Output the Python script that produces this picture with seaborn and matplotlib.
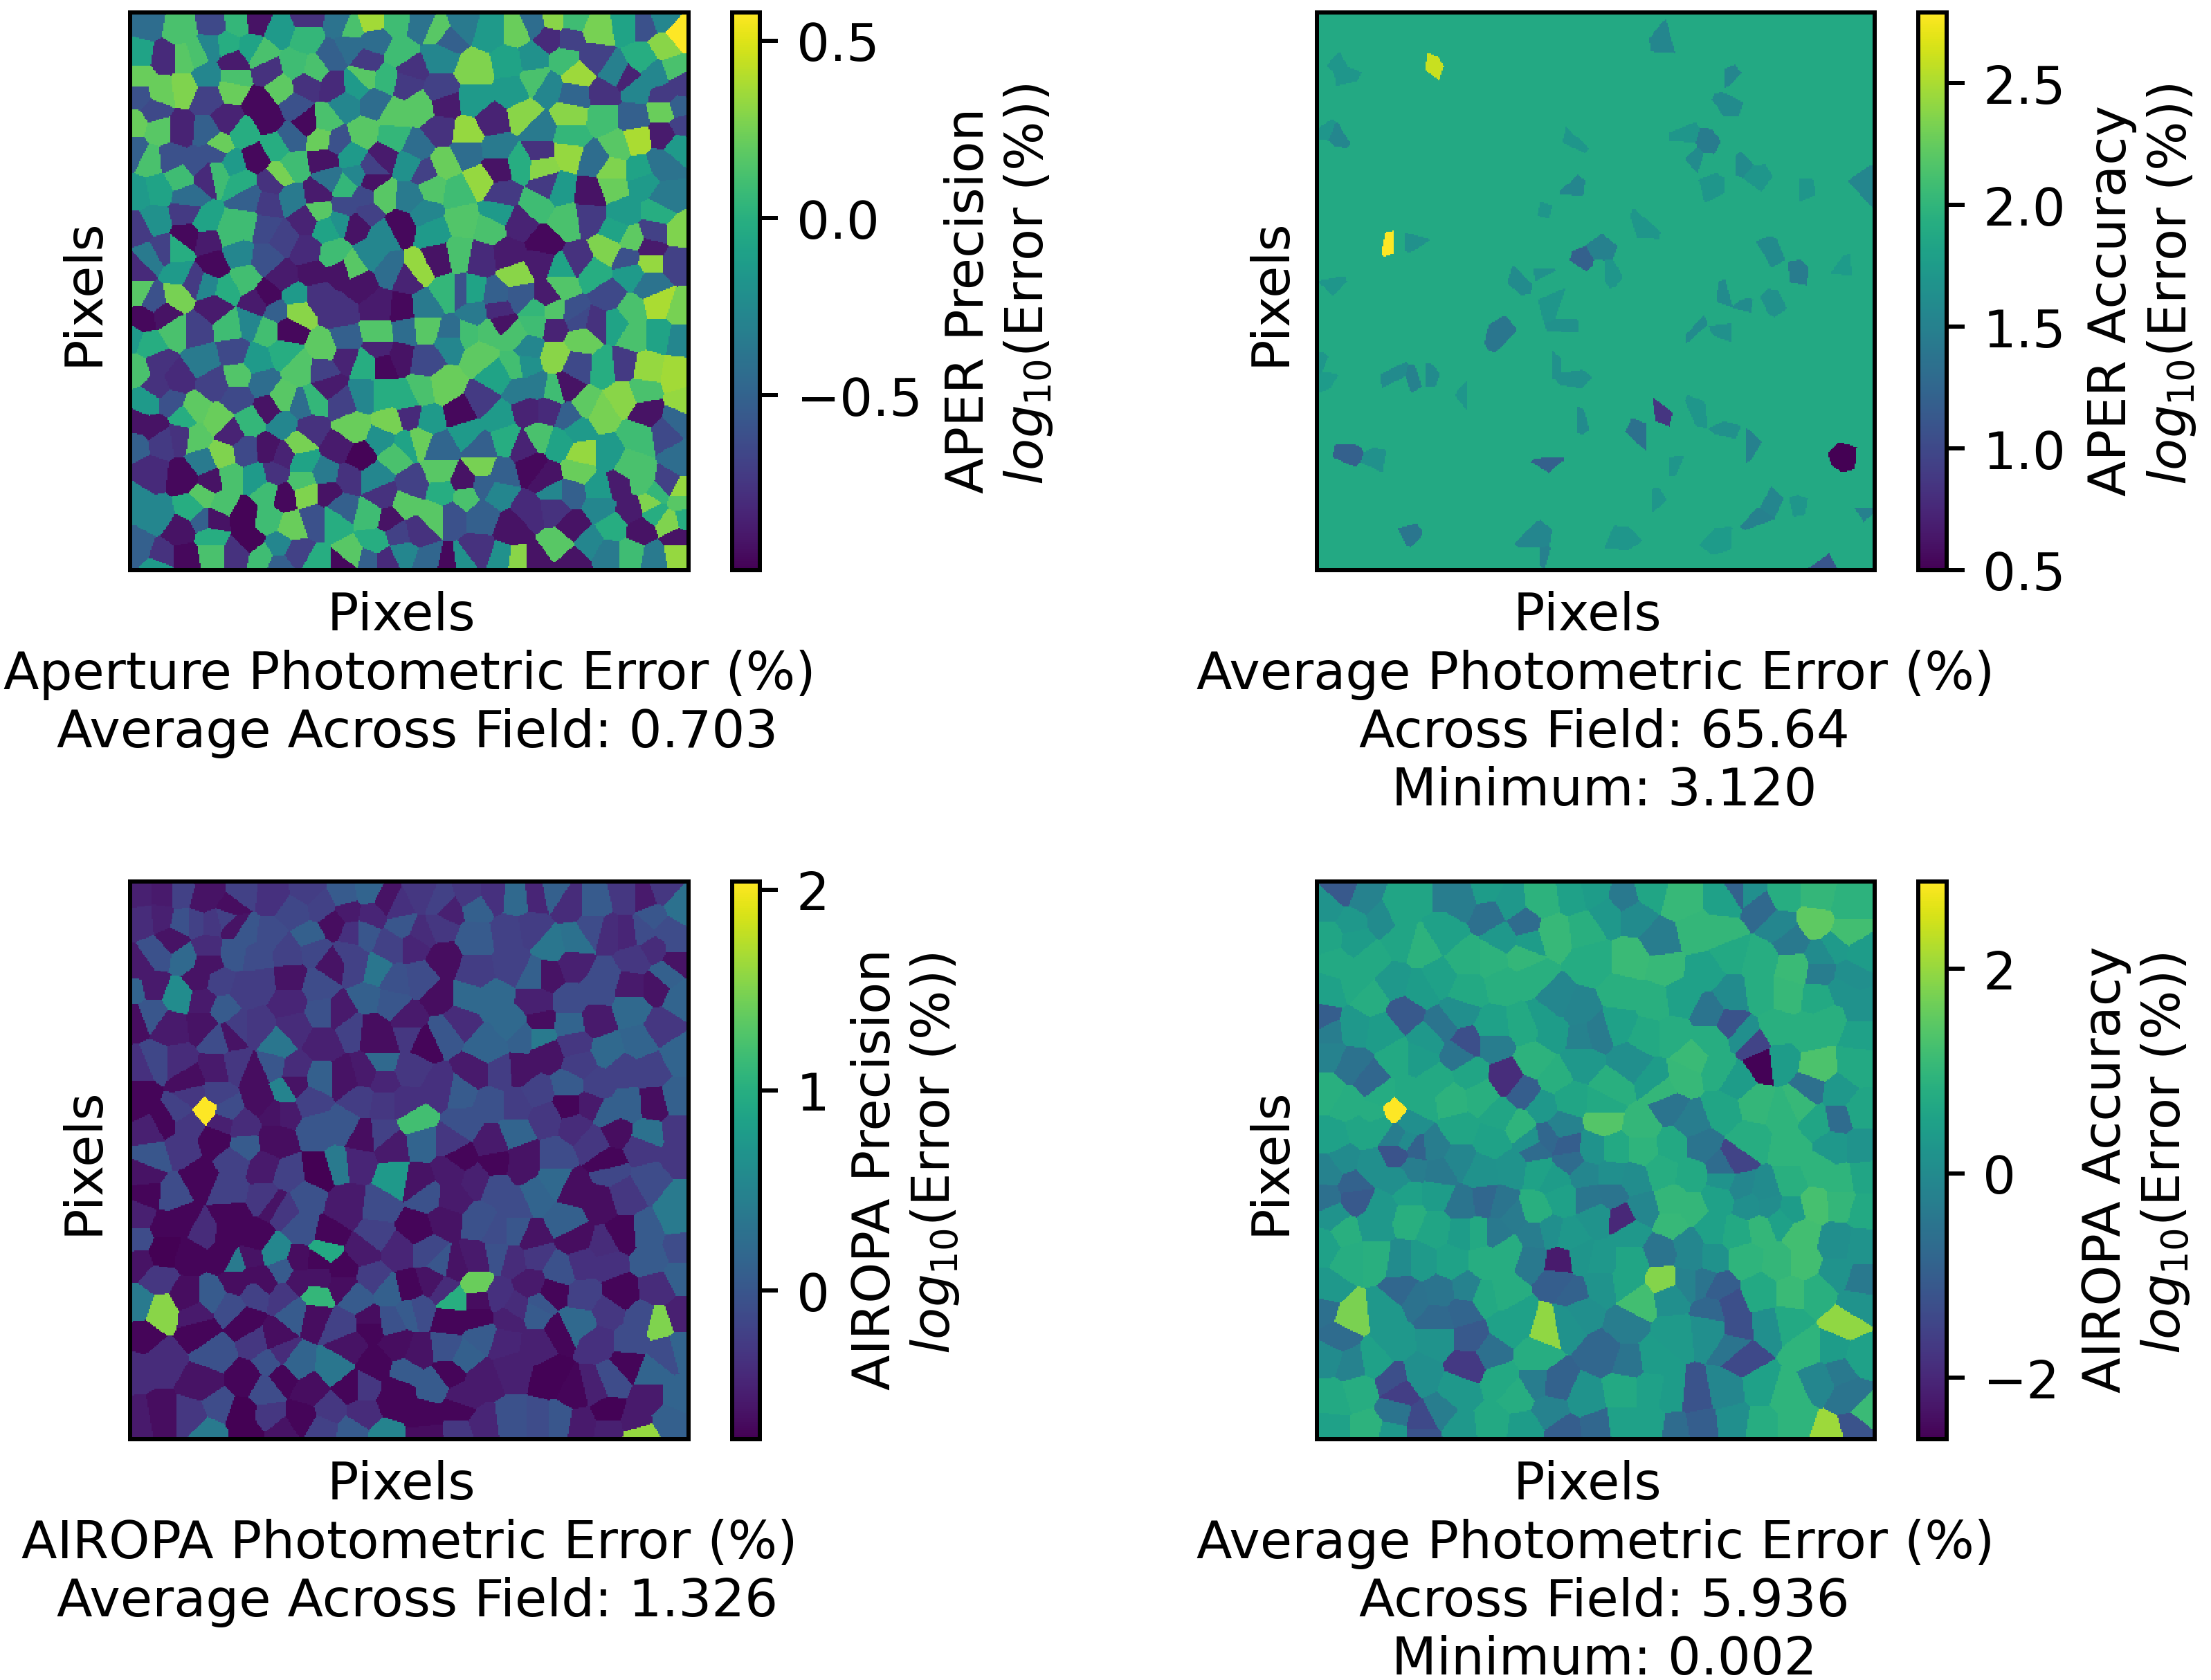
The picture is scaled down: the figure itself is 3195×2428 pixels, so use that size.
import numpy as np
import matplotlib
matplotlib.use("Agg")
import matplotlib.pyplot as plt
import seaborn as sns

# Cell sites: (x, y, log10 error), x and y as read in each panel's crop
APER_PRECISION_SITES = [
(80,70,-0.3),(170,85,0.25),(255,70,-0.55),(320,65,0.15),(370,60,-0.9),(430,85,0),(500,110,0.15),(500,50,-0.7),(590,70,-0.25),(615,80,0.25),(670,60,0.48),(735,60,0.2),(800,70,-0.25),(845,90,0.3),(910,70,-0.2),(980,90,0),(1050,90,0.35),(1095,70,-0.3),(1145,60,0.42),(1135,105,-0.75),(1200,60,0.2),(1260,85,0.38),(1190,110,-0.6),(1340,70,0.05),(1475,100,0.58),(1430,55,-0.1),(1385,70,-0.5),
(60,150,0.05),(130,160,-0.75),(180,160,0.3),(210,150,0.25),(250,130,-0.1),(290,125,0.1),(310,170,-0.85),(355,135,0.05),(380,150,0.25),(400,195,-0.7),(470,180,0.2),(520,190,0.25),(565,155,-0.4),(610,130,-0.3),(680,115,-0.3),(660,170,-0.65),(745,150,0.2),(770,190,-0.7),(850,155,-0.1),(870,110,-0.4),(940,190,0.4),(1030,170,0.05),(1090,160,-0.05),(1180,165,0.2),(1210,200,0.47),(1250,160,-0.6),(1310,200,-0.15),(1380,165,0.1),(1440,130,0.42),(1460,190,0.25),(1410,200,-0.1),
(60,210,0.35),(60,265,-0.5),(120,250,0.35),(180,240,0.4),(240,210,-0.1),(310,215,0.25),(305,240,0.35),(240,265,-0.6),(380,280,-0.95),(430,240,0.32),(470,290,-0.5),(500,230,-0.7),(570,235,-0.75),(630,230,0),(650,210,0.3),(710,215,0.15),(760,225,-0.65),(600,285,-0.1),(680,280,-0.3),(730,310,0.3),(800,290,0.3),(850,250,-0.6),(860,280,-0.85),(940,270,0),(1040,250,0),(1100,220,0.25),(1130,240,-0.1),(1200,260,-0.35),(1280,255,-0.7),(1360,240,-0.1),(1340,215,-0.8),(1420,205,-0.1),(1440,260,-0.65),(1480,230,-0.65),
(50,330,0.35),(100,300,-0.55),(115,350,0.3),(170,350,-0.8),(240,355,-0.4),(270,390,0.35),(290,325,-0.8),(335,360,0.1),(400,320,-0.95),(500,330,-0.95),(460,370,-0.4),(550,325,0.25),(540,375,0.35),(580,380,-0.5),(650,360,0.3),(725,370,0.15),(790,400,-0.3),(850,350,-0.7),(920,360,0.45),(985,325,-0.8),(1070,310,0.42),(1110,350,-0.2),(1190,310,0.42),(1190,370,0.15),(1280,320,0.22),(1350,320,-0.4),(1360,375,0.5),(1315,390,0.3),(1440,365,-0.85),(1470,290,-0.4),(1440,300,0.35),(1480,340,-0.6),
(50,410,-0.4),(90,430,0.25),(145,425,-0.5),(210,440,-0.5),(260,410,-0.5),(310,440,0),(365,425,-0.95),(420,395,0.1),(465,445,0.2),(430,470,0.38),(545,430,-0.9),(560,480,-0.25),(620,420,0),(670,450,-0.6),(700,420,-0.85),(770,440,-0.05),(810,460,-0.6),(860,440,0.35),(920,410,-0.3),(1000,400,-0.2),(955,485,0.45),(1000,455,-0.9),(1060,440,0.1),(1115,445,0.42),(1110,410,-0.7),(1185,410,0.45),(1255,430,-0.3),(1300,460,0.4),(1370,460,0.05),(1430,440,-0.25),(1470,390,0),
(60,520,0),(110,510,0.05),(170,475,0.2),(190,530,-0.3),(265,465,0.2),(240,470,-0.75),(330,490,0.1),(410,490,-0.7),(400,545,-0.65),(350,530,-0.4),(460,530,-0.2),(530,520,-0.85),(600,500,0.15),(630,470,-0.1),(670,485,-0.9),(700,525,0.3),(650,530,-0.55),(770,530,-0.2),(830,505,0.28),(895,515,0.2),(1010,520,-0.65),(1130,500,-0.65),(1105,550,0.2),(1160,510,0),(1245,520,-0.9),(1300,500,0.35),(1380,490,0),(1440,530,-0.2),(535,565,0.3),(600,555,-0.55),
(60,610,-0.65),(100,590,-0.05),(185,570,-0.65),(190,630,-0.95),(235,595,0.05),(240,640,-0.85),(300,620,0.2),(340,600,0.2),(390,610,-0.55),(440,640,-0.6),(500,590,-0.8),(550,610,0.05),(590,590,-0.05),(630,600,-0.9),(660,570,-0.6),(700,630,-0.1),(745,605,-0.95),(810,570,-0.1),(830,620,0),(910,590,0.28),(980,610,0.25),(1000,570,0),(1060,600,-0.8),(1120,650,-0.95),(1180,590,0.25),(1240,580,-0.65),(1330,570,0),(1420,570,0.1),(1480,620,0.4),(1310,620,0.05),(1350,640,0.32),(1410,620,-0.6),
(90,690,-0.2),(160,670,0.1),(125,670,-0.6),(260,710,-0.95),(320,680,-0.1),(395,690,-0.5),(440,740,-0.85),(500,670,-0.75),(515,730,-0.9),(570,680,0.2),(590,725,-0.9),(620,715,0.3),(670,680,-0.1),(720,720,-0.3),(790,720,0.45),(845,690,-0.9),(900,680,0.25),(955,690,-0.75),(1030,680,-0.85),(1050,735,0.42),(1110,700,-0.85),(1210,700,-0.7),(1170,720,0.05),(1250,730,0.1),(1290,665,0.4),(1340,690,-0.5),(1400,700,0.45),(1400,665,-0.85),(1470,700,-0.6),
(60,720,-0.75),(60,780,0.3),(100,800,-0.5),(160,790,0.38),(165,730,0),(205,750,-0.65),(260,820,-0.85),(240,760,-0.1),(290,770,0.1),(335,745,0.22),(400,790,-0.95),(370,810,-0.85),(420,830,-0.4),(475,830,0.42),(470,790,0),(530,790,-0.7),(585,830,-0.7),(640,760,-0.9),(690,820,-0.85),(750,825,-0.95),(765,740,-0.8),(810,820,-0.2),(870,780,0.15),(905,780,-0.5),(935,780,0.05),(940,835,-0.2),(995,790,-0.4),(1000,825,-0.75),(1060,790,-0.45),(1170,760,0.28),(1130,790,-0.85),(1100,830,0.15),(1150,830,0.28),(1200,835,-0.5),(1290,790,-0.55),(1350,730,0),(1420,810,0.5),(1400,760,-0.25),(1350,830,0.25),(1480,830,0.38),
(70,850,-0.95),(130,840,-0.9),(40,900,0),(90,920,0.1),(155,880,0.25),(210,880,-0.6),(300,870,0.2),(350,860,-0.1),(400,880,0.22),(450,880,-0.95),(550,930,0.32),(600,910,-0.4),(690,890,0.28),(690,930,-0.8),(760,880,-0.3),(810,875,0.3),(880,890,-0.3),(920,890,0.22),(980,885,0.25),(1010,865,-0.9),(1040,895,0.25),(1100,860,0.2),(1080,930,-0.1),(1150,870,-0.8),(1210,850,-0.55),(1220,905,0.35),(1260,860,-0.7),(1310,860,0.05),(1360,890,0.25),(1420,890,0.05),(1480,900,-0.1),
(60,985,0.25),(110,970,-0.7),(160,1010,-0.75),(230,960,-0.2),(310,940,-0.55),(320,1000,0.28),(370,960,0),(385,1020,-0.3),(440,940,0.1),(480,980,0.28),(545,985,-0.6),(600,950,-0.8),(655,970,0.1),(700,970,-0.95),(745,950,-0.9),(810,960,-0.55),(860,1030,0.35),(800,1040,0.25),(880,910,-0.1),(955,945,0.32),(1000,1000,0.05),(1045,975,0.22),(1075,970,-0.05),(1100,1030,-0.2),(1150,950,0.42),(1210,975,-0.55),(1180,1030,-0.9),(1280,980,0.1),(1330,975,-0.65),(1390,985,0.45),(1470,1000,0.48),(1060,1040,-0.2),
(110,1030,-0.7),(85,1070,0),(145,1070,-0.5),(205,1090,0.32),(100,1140,-0.9),(60,1130,-0.9),(180,1110,0.1),(260,1020,-0.6),(270,1120,0.35),(320,1060,-0.55),(350,1120,0.15),(400,1085,-0.9),(435,1060,0.3),(440,1130,-0.1),(490,1080,-0.3),(520,1070,0.15),(560,1030,-0.85),(590,1070,-0.6),(650,1050,-0.1),(620,1140,0.35),(720,1125,0.38),(700,1050,0.1),(760,1060,0.1),(770,1110,-0.75),(820,1120,0),(905,1100,-0.95),(960,1070,-0.65),(1000,1110,0),(1080,1090,-0.8),(1130,1090,-0.75),(1190,1110,-0.4),(1230,1080,0.32),(1270,1100,0.38),(1330,1060,0.42),(1380,1040,0.25),(1390,1100,-0.9),(1470,1120,-0.35),(1490,1070,0.45),(1150,1040,0.2),
(50,1180,-0.4),(120,1170,-0.65),(170,1160,-0.7),(210,1165,0.3),(280,1210,0.4),(300,1150,-0.8),(230,1230,-0.2),(340,1200,-0.55),(400,1195,-0.9),(440,1210,-0.8),(480,1180,0.38),(490,1230,0.05),(510,1140,-0.7),(585,1190,-0.85),(640,1215,-0.98),(700,1170,-0.05),(730,1210,0.25),(760,1180,0.05),(795,1170,0.35),(850,1190,-0.35),(920,1150,0),(960,1190,-0.4),(1020,1170,0.1),(1070,1190,-0.8),(1110,1165,0.25),(1160,1180,0.05),(1220,1210,0.45),(1210,1140,0),(1290,1210,0),(1370,1160,0.2),(1440,1150,-0.55),(1480,1220,-0.3),(1345,1240,0.25),
(90,1260,-0.75),(50,1330,-0.1),(180,1270,-0.95),(250,1280,-0.9),(300,1270,0.25),(230,1320,0.3),(280,1340,0.25),(370,1270,0),(415,1260,-0.7),(400,1310,0.2),(440,1320,-0.95),(490,1280,0.25),(500,1310,0.4),(550,1260,-0.2),(555,1310,-0.9),(610,1270,-0.7),(680,1270,-0.1),(700,1320,-0.7),(780,1290,-0.6),(850,1255,0.3),(960,1240,0.38),(910,1280,-0.9),(855,1310,0.1),(915,1320,0.25),(965,1290,-0.4),(1010,1260,-0.4),(1000,1310,-0.1),(1090,1240,-0.95),(1130,1270,-0.9),(1150,1310,-0.1),(1210,1250,0.35),(1190,1310,-0.4),(1270,1300,0),(1315,1290,-0.85),(1380,1280,0.25),(1440,1290,-0.6),(1480,1310,0.45),(1420,1310,0.15),(1480,1330,0.3),
(110,1370,-0.1),(200,1350,0.1),(230,1380,-0.4),(260,1380,-0.9),(335,1370,-0.98),(170,1410,-0.9),(250,1430,0.1),(350,1440,-0.98),(400,1380,0.2),(460,1400,0.35),(430,1450,-0.1),(520,1380,-0.5),(570,1380,0.1),(590,1350,-0.4),(670,1370,0.2),(715,1380,-0.9),(740,1420,-0.6),(790,1410,-0.7),(830,1370,0.3),(760,1340,0.3),(880,1370,-0.5),(960,1370,-0.4),(1040,1400,-0.9),(1080,1360,-0.75),(1150,1350,-0.7),(1200,1400,-0.9),(1270,1350,-0.1),(1350,1355,-0.85),(1300,1400,0.1),(1410,1360,0.1),(1375,1410,-0.9),(1450,1390,0.4),(1490,1380,0.1),(1400,1340,0.4),
(60,1460,-0.4),(120,1480,-0.7),(110,1505,0),(185,1480,-0.95),(250,1470,0.25),(320,1470,-0.7),(380,1480,0.2),(430,1500,-0.4),(470,1470,-0.6),(530,1505,0.1),(600,1505,-0.95),(620,1480,0.3),(680,1440,0.1),(660,1490,-0.4),(710,1490,-0.75),(750,1470,-0.1),(820,1495,-0.35),(870,1505,-0.95),(910,1500,-0.05),(950,1470,-0.7),(1010,1490,-0.05),(1050,1495,0.42),(1100,1495,-0.9),(1160,1450,0.3),(1195,1490,-0.9),(1240,1440,-0.1),(1290,1470,-0.2),(1350,1470,0.2),(1410,1480,-0.2),(1470,1470,0.45),(1470,1430,-0.9),
]

APER_ACCURACY_BACKGROUND = 1.88
APER_ACCURACY_SITES = [
(330,175,2.6),(230,640,2.8),(935,100,1.55),(1100,220,1.55),(1100,280,1.6),(100,205,1.7),(85,180,1.7),(90,360,1.55),(50,345,1.7),(1055,385,1.45),(1020,430,1.6),(990,365,1.7),(1070,500,1.7),(1140,445,1.6),(1175,475,1.7),(1290,500,1.7),(1460,500,1.55),(690,520,1.55),(630,565,1.7),(710,375,1.7),(895,595,1.7),(285,640,1.65),(780,670,1.5),(720,705,1.2),(785,720,1.7),(1215,690,1.6),(1290,725,1.45),(1395,705,1.75),(560,745,1.6),(610,720,1.65),(60,770,1.7),(505,895,1.4),(680,880,1.65),(650,810,1.7),(1100,795,1.6),(1140,825,1.6),(1220,820,1.65),(1020,885,1.6),(1090,870,1.65),(645,970,1.65),(240,1000,1.6),(280,1010,1.5),(315,1000,1.6),(695,1010,1.65),(420,1060,1.7),(930,1095,0.85),(875,1150,1.35),(710,1125,1.6),(1025,1095,1.7),(1100,1160,1.65),(1155,1180,1.5),(110,1195,1.2),(630,1220,1.2),(190,1225,1.65),(1410,1215,0.5),(260,1420,1.4),(1185,1390,1.5),(1225,1335,1.55),(1470,1370,1.5),(1280,1345,1.7),(610,1430,1.55),(615,1480,1.5),(1360,1500,1.1),(905,1320,1.7),(950,1240,1.7),(1075,1445,1.75),(815,1425,1.7),(40,980,1.7),(50,1000,1.75),
]

AIROPA_PRECISION_SITES = [
(60,70,-0.5),(130,70,-0.55),(170,70,-0.2),(250,60,-0.6),(230,85,-0.6),(300,100,-0.65),(330,60,-0.2),(410,70,-0.35),(500,60,-0.25),(540,100,-0.2),(600,70,0.05),(660,60,0.15),(710,85,-0.6),(610,110,-0.55),(670,120,-0.45),(740,100,-0.35),(800,70,-0.3),(850,90,-0.2),(870,110,-0.5),(930,70,-0.3),(945,95,0.1),(985,70,-0.35),(1050,75,0.2),(1100,70,-0.45),(1145,60,0.1),(1190,90,-0.4),(1250,90,0.05),(1340,70,-0.3),(1385,70,-0.55),(1430,55,-0.3),(1475,100,0.3),(1410,130,0),
(70,130,-0.4),(120,125,-0.5),(150,190,-0.6),(175,140,-0.05),(210,140,-0.2),(250,140,-0.3),(290,130,-0.2),(310,150,-0.6),(340,170,0),(400,180,-0.1),(470,110,-0.15),(510,180,0.1),(570,145,-0.65),(620,170,-0.35),(650,170,0),(750,150,0),(800,170,-0.4),(850,150,-0.3),(860,240,-0.65),(940,185,0.05),(1030,170,-0.2),(1090,160,-0.25),(1140,205,0.35),(1205,190,0.3),(1250,160,-0.1),(1290,170,-0.4),(1340,170,-0.45),(1380,165,-0.1),(1440,160,-0.1),(1470,200,-0.1),
(60,260,-0.55),(110,225,-0.05),(180,235,0.2),(240,210,-0.4),(240,250,-0.6),(310,220,0),(370,230,-0.1),(450,220,-0.2),(520,210,-0.15),(570,250,-0.6),(610,225,-0.2),(680,270,0.35),(730,300,-0.05),(720,200,-0.2),(630,260,-0.2),(800,290,-0.1),(780,200,-0.45),(940,270,-0.25),(1040,250,-0.2),(1100,280,0.1),(1130,280,-0.6),(1200,250,-0.5),(1280,290,-0.1),(1350,310,-0.55),(1360,240,-0.3),(1470,240,-0.6),(1410,210,-0.4),
(50,320,0.15),(95,310,-0.55),(165,335,0.6),(220,290,-0.6),(230,350,-0.55),(280,370,0.05),(270,300,-0.2),(340,320,-0.25),(380,300,-0.25),(455,290,-0.6),(455,350,-0.45),(530,310,-0.1),(540,380,-0.05),(590,380,-0.55),(660,340,0.1),(720,350,0),(770,400,-0.55),(850,340,-0.65),(920,340,0.2),(990,345,0.2),(1100,355,-0.5),(1110,405,-0.65),(1190,350,-0.1),(1190,410,0.15),(1260,400,-0.55),(1265,320,-0.1),(1350,370,0.2),(1415,310,-0.6),(1440,280,0.1),(1480,340,0.15),
(50,395,-0.65),(90,380,0),(145,420,-0.55),(230,410,-0.6),(300,440,-0.6),(270,450,-0.1),(320,420,-0.25),(370,420,-0.3),(425,465,0.35),(470,420,-0.4),(540,460,-0.5),(620,420,-0.2),(670,425,-0.65),(700,460,-0.65),(700,510,0.2),(770,440,-0.3),(805,455,-0.7),(860,430,0),(900,400,-0.4),(975,470,0.15),(1040,410,0.2),(1070,440,0.1),(1110,440,0.4),(1130,490,-0.6),(1200,460,-0.3),(1290,480,0.2),(1370,460,0.15),(1430,420,-0.3),(1475,490,0.15),
(60,530,-0.35),(60,590,-0.7),(110,510,-0.15),(160,510,-0.4),(190,560,-0.65),(265,530,-0.55),(315,520,-0.3),(365,540,-0.65),(410,520,0),(440,590,0.5),(470,530,-0.4),(470,570,-0.6),(535,555,0.1),(600,555,-0.6),(655,540,-0.55),(700,560,-0.45),(770,530,-0.3),(850,580,-0.35),(905,590,0.05),(940,540,-0.55),(1010,540,-0.25),(1060,535,-0.6),(1100,590,-0.2),(1190,570,0.05),(1215,520,-0.25),(1260,570,-0.2),(1240,625,-0.55),(1330,530,-0.2),(1400,530,-0.2),(1470,610,0.1),(1340,630,0.1),(1410,625,-0.65),
(55,620,-0.7),(125,670,-0.7),(90,690,-0.5),(170,640,-0.2),(235,635,2.04),(200,600,-0.3),(265,595,-0.2),(190,670,-0.3),(280,670,-0.5),(290,640,-0.1),(385,610,-0.65),(440,640,-0.55),(510,610,-0.2),(640,610,-0.25),(700,620,-0.3),(785,665,1.2),(760,620,-0.35),(910,675,-0.05),(980,620,-0.05),(1050,620,-0.25),(1125,660,-0.3),(1190,625,-0.7),(1290,650,0.1),(1205,680,-0.4),(1310,690,-0.65),(1395,700,0.3),(1470,690,-0.3),
(100,760,0),(170,740,-0.3),(265,715,-0.7),(330,680,-0.4),(335,735,0.05),(420,720,-0.65),(420,640,-0.6),(530,690,0),(600,680,0),(645,705,-0.65),(700,700,-0.2),(725,730,-0.55),(800,720,0.15),(905,765,-0.7),(880,720,-0.3),(1050,700,0.15),(985,725,-0.55),(995,780,-0.7),(1070,760,-0.6),(1150,760,-0.1),(1250,720,-0.3),(1290,780,-0.7),(1380,740,-0.3),(1470,760,-0.3),
(80,810,-0.6),(85,855,-0.7),(150,860,-0.1),(220,820,-0.7),(295,850,-0.2),(310,770,-0.2),(390,790,-0.55),(395,870,-0.3),(450,810,-0.2),(500,870,-0.05),(535,800,-0.74),(585,785,0.4),(610,880,-0.55),(630,780,-0.45),(690,890,-0.1),(730,820,0.75),(790,830,-0.6),(815,865,-0.05),(880,800,-0.55),(945,820,-0.5),(1000,840,-0.1),(1060,790,-0.6),(1045,885,-0.1),(1100,860,0.15),(1150,825,0.2),(1200,850,-0.65),(1270,880,-0.65),(1295,800,-0.15),(1330,860,-0.3),(1400,820,-0.1),(1475,880,0.4),
(60,920,-0.5),(130,950,-0.7),(130,1000,-0.74),(175,930,-0.7),(230,960,-0.4),(300,920,-0.7),(295,970,-0.7),(365,975,-0.7),(415,885,-0.6),(440,900,-0.3),(490,950,-0.05),(560,965,-0.7),(600,900,-0.55),(680,970,-0.2),(790,950,-0.7),(880,870,-0.55),(860,930,-0.6),(955,935,-0.05),(1000,960,-0.1),(1045,960,0),(1090,980,-0.6),(1180,930,0.1),(1205,980,-0.65),(1330,970,-0.7),(1280,1000,-0.4),(1390,965,0.05),(1470,925,0.4),(1480,1000,-0.1),
(60,980,-0.1),(65,1040,-0.6),(120,1020,-0.74),(195,1020,-0.7),(285,1022,-0.7),(320,1040,0.4),(350,1030,-0.6),(420,1015,0.55),(360,1075,-0.65),(435,1060,0.05),(480,1035,-0.65),(550,1010,0.95),(530,1040,-0.7),(595,1060,-0.7),(650,1010,-0.55),(670,1080,-0.25),(740,1010,-0.45),(820,1010,-0.15),(855,1045,0),(885,1050,-0.6),(945,1030,-0.55),(1000,1020,-0.05),(1040,1030,-0.4),(1100,1020,-0.3),(1160,1060,-0.05),(1225,1040,-0.35),(1290,1040,-0.35),(1400,1030,0.05),(1480,1080,0.1),
(60,1150,0.4),(120,1170,1.55),(190,1130,-0.65),(110,1080,-0.3),(250,1130,0.05),(210,1180,-0.55),(320,1090,-0.65),(390,1090,-0.65),(365,1120,-0.2),(440,1130,-0.3),(480,1090,-0.6),(525,1130,1.1),(530,1080,-0.6),(595,1100,-0.65),(630,1130,0.05),(670,1200,-0.65),(720,1120,0.1),(765,1110,-0.7),(790,1165,-0.1),(830,1090,-0.6),(860,1110,-0.4),(945,1100,1.4),(885,1140,1.0),(950,1140,-0.65),(1000,1130,-0.35),(1050,1160,-0.4),(1090,1100,-0.55),(1140,1120,-0.7),(1110,1150,0),(1230,1130,-0.2),(1320,1120,-0.7),(1420,1110,-0.4),(1420,1200,1.5),(1480,1180,-0.5),(1380,1190,-0.1),(1285,1170,-0.3),(1190,1210,0.2),
(70,1240,-0.7),(50,1320,-0.4),(120,1300,-0.4),(220,1220,-0.7),(260,1280,-0.05),(340,1200,-0.7),(415,1240,-0.65),(300,1160,-0.1),(370,1250,-0.3),(470,1170,0.05),(520,1180,-0.65),(590,1210,-0.2),(670,1205,-0.7),(720,1195,-0.05),(770,1170,0.05),(740,1260,-0.65),(680,1310,-0.7),(790,1280,-0.6),(880,1190,-0.7),(950,1190,-0.7),(960,1230,0.05),(870,1270,-0.05),(910,1290,0.1),(1030,1190,-0.5),(1020,1250,-0.45),(1100,1170,0.05),(1100,1260,-0.5),(1170,1220,-0.7),(1220,1200,0.2),(1260,1250,-0.35),(1350,1250,-0.1),(1440,1280,-0.1),(1480,1270,0.15),
(430,1280,-0.4),(610,1260,-0.6),(230,1360,-0.6),(340,1350,-0.7),(405,1300,-0.05),(440,1340,-0.7),(390,1380,-0.1),(470,1310,0.15),(510,1380,-0.65),(575,1320,0.35),(615,1370,-0.7),(650,1370,-0.3),(740,1380,-0.7),(760,1330,0.05),(830,1365,0.05),(875,1330,-0.7),(960,1350,-0.55),(910,1400,-0.55),(1040,1320,-0.5),(1140,1345,-0.72),(1205,1380,-0.7),(1250,1370,-0.5),(1300,1350,-0.1),(1345,1310,-0.7),(1400,1330,0.15),(1470,1400,0.15),
(60,1460,-0.55),(120,1450,-0.65),(240,1490,0.4),(330,1440,-0.74),(350,1490,-0.74),(200,1450,-0.3),(270,1420,-0.1),(400,1450,-0.3),(490,1450,-0.7),(430,1490,-0.6),(540,1480,-0.2),(560,1430,-0.3),(620,1490,0.05),(705,1500,0.5),(650,1440,-0.4),(730,1410,-0.7),(810,1450,-0.7),(815,1495,-0.65),(900,1430,-0.7),(900,1490,-0.3),(960,1470,-0.45),(1040,1460,-0.05),(1110,1460,-0.1),(1160,1460,0),(1220,1470,-0.55),(1290,1440,-0.72),(1290,1480,-0.5),(1370,1495,1.6),(1360,1460,-0.55),(1450,1450,0.1),(1400,1400,-0.55),
]

AIROPA_ACCURACY_SITES = [
(95,60,-1.1),(150,80,-0.2),(60,100,0.2),(200,130,0.0),(120,140,0.3),(60,180,0.6),(130,190,0.4),(240,110,0.6),(300,60,0.6),(360,60,-0.3),(410,80,-0.3),(470,60,0.4),(480,115,-0.6),(570,150,-0.7),(530,90,0.3),(620,80,0.9),(650,170,1.05),(580,190,0.4),(520,185,0.3),(700,70,0.5),(750,60,0.4),(730,160,0.85),(835,80,-0.4),(860,120,0),(790,120,0.3),(900,60,0.6),(930,190,-0.3),(980,80,1.05),(1020,170,1.0),(1090,170,1.0),(1130,60,-0.9),(1160,60,0.1),(1190,100,-0.75),(1100,80,0.5),(1240,150,-0.1),(1270,190,-0.4),(1250,70,0.8),(1330,140,1.5),(1420,170,1.2),(1340,70,1.0),(1420,90,0.9),
(305,205,0.9),(80,250,0.7),(170,240,0.7),(250,190,0.6),(360,170,0.5),(420,240,0.85),(490,240,0.9),(565,230,1.0),(750,240,0.75),(850,240,1.1),(940,260,1.05),(1040,270,0.5),(1110,220,0.7),(1190,240,0.8),(1275,260,1.1),(1350,230,0),(1350,270,-0.3),(1420,280,0.1),(1450,220,0.4),(1385,210,0.35),
(60,320,0.5),(130,300,0.7),(230,300,0.3),(300,320,0.4),(350,290,0.5),(420,320,0.7),(520,300,0.85),(590,290,0.85),(650,350,-0.1),(715,380,-0.15),(760,430,-0.35),(830,330,0.85),(910,350,0.85),(980,340,0.5),(1060,380,-0.5),(1115,340,0),(1190,330,0.8),(1255,330,1.05),(1345,340,0.7),(1400,320,0.15),(1450,370,0.15),
(45,400,-1.0),(60,430,-0.3),(125,420,0.3),(170,340,0.8),(260,380,-1.1),(200,430,0.4),(320,450,0.3),(355,415,-0.5),(400,380,0.1),(420,460,-1.3),(400,490,-0.5),(490,420,0.5),(570,410,0.7),(620,390,0.4),(650,430,0.4),(720,440,-0.2),(820,410,0.5),(890,440,0.7),(960,440,0.8),(1010,500,1.1),(1060,450,0.8),(1110,405,-1.2),(1150,440,0.1),(1170,460,-1.5),(1195,515,-2.57),(1230,420,0.85),(1320,430,0.85),(1370,400,0.85),(1450,430,0.5),
(60,490,-0.2),(120,520,-0.55),(170,560,-0.8),(240,500,0.7),(300,500,0.4),(340,560,0.7),(430,540,0.6),(490,460,-0.3),(525,555,-1.9),(570,590,-1.0),(600,510,0.9),(650,550,0.85),(720,510,0.3),(800,580,0.85),(850,510,0.1),(930,580,1.0),(985,550,1.05),(915,560,0.4),(1080,530,0.8),(1130,560,0.4),(1240,510,0.4),(1340,525,1.3),(1320,580,-0.6),(1390,590,0.3),(1440,520,0.7),
(60,590,0.85),(110,620,0.8),(180,650,0.8),(230,635,2.88),(200,600,0.75),(265,600,0.7),(190,675,0.6),(275,670,0.1),(300,620,0.7),(380,610,0.9),(460,600,0.85),(510,650,0.6),(560,680,0.95),(620,630,0.3),(690,610,0.6),(780,665,1.4),(780,620,0.7),(880,680,1.0),(950,630,-0.5),(1010,670,-0.3),(1090,640,0.6),(1180,620,1.0),(1250,640,0.95),(1290,620,1.05),(1390,660,-0.7),(1340,670,0.6),(1450,640,0.6),
(70,710,0.5),(150,690,0.6),(240,710,-0.3),(260,720,0),(290,740,-0.9),(335,735,-0.3),(400,690,0.6),(490,720,0.55),(590,720,0.2),(630,710,-0.8),(600,740,-0.7),(670,680,-0.2),(685,735,-1.0),(690,770,-0.7),(750,740,0.2),(810,740,0.7),(880,740,0.95),(960,730,0.7),(1035,730,-0.5),(1125,770,-1.5),(1090,790,-0.7),(1160,720,0.8),(1270,740,0.95),(1380,730,0.3),(1450,730,0.2),
(60,800,-0.2),(125,835,-0.9),(100,770,0),(240,755,-1.2),(170,790,0.1),(240,820,0.1),(280,790,-0.3),(350,800,-0.4),(400,770,-0.1),(460,800,0.15),(540,790,0.2),(610,800,0.55),(650,820,0.4),(730,810,-0.1),(800,810,0.1),(860,820,0.05),(930,800,0.8),(1010,810,0.7),(1090,820,0.2),(1140,840,-0.1),(1200,850,0),(1270,830,0.85),(1340,800,0.95),(1400,830,0.95),(1460,820,0.6),
(50,870,-0.6),(130,870,-1.1),(70,920,0.2),(200,900,0.3),(270,860,0.5),(340,860,0.4),(410,890,-0.5),(470,880,-0.8),(510,890,-0.5),(540,920,-0.35),(600,900,0.85),(670,870,0.5),(740,870,-0.45),(800,860,-0.5),(830,925,-2.0),(880,900,-0.1),(960,880,1.0),(1010,900,1.0),(1080,870,0.5),(1160,890,0.1),(1210,890,0.05),(1270,900,0.4),(1330,885,1.25),(1400,880,1.0),(1460,900,0.7),
(100,960,0.85),(180,940,0.3),(50,990,0.5),(270,920,0.85),(340,950,0.6),(410,960,0.4),(500,960,-0.4),(450,960,0.7),(595,970,-0.3),(640,960,0.1),(690,970,0.3),(760,920,0.2),(850,960,0.3),(960,940,1.05),(930,1010,-0.5),(1000,990,-0.1),(1060,950,0.5),(1130,960,0.7),(1190,950,1.0),(1240,930,0.5),(1295,970,1.2),(1390,990,0.1),(1450,1000,0.2),
(120,1030,0.8),(180,1030,0.85),(250,1040,0),(300,1040,0.35),(380,1040,0.55),(470,1040,0.8),(530,1010,0.8),(590,1030,-0.4),(665,1040,-2.2),(660,1090,-1.0),(720,1030,0.25),(770,1040,0.3),(850,1040,0.6),(935,1090,1.85),(1010,1030,-0.1),(1060,1030,0.15),(1150,1030,0.95),(1240,1040,1.0),(1300,1040,1.2),(1390,1070,0.2),(1450,1090,-0.4),
(60,1120,0.3),(115,1180,1.75),(50,1160,-0.6),(255,1115,-0.8),(285,1135,-0.55),(350,1120,-0.5),(420,1110,-0.2),(410,1170,-0.85),(345,1190,-0.75),(470,1130,0.7),(520,1120,0.8),(630,1210,1.95),(700,1120,-0.9),(720,1170,0.1),(770,1100,0.2),(840,1090,0.6),(875,1142,1.2),(950,1130,0.1),(1000,1090,-0.2),(1040,1090,-0.5),(1080,1110,-1.0),(1105,1155,-1.3),(1070,1165,-0.8),(1130,1215,-1.3),(1190,1120,0.7),(1270,1120,1.1),(1340,1120,0.85),(1410,1200,1.95),(1440,1150,0.2),
(85,1240,-0.7),(120,1310,-0.2),(60,1290,0),(210,1170,0.3),(230,1250,0.3),(180,1300,0.5),(345,1240,0.2),(430,1240,-1.1),(485,1280,-0.6),(425,1312,-1.7),(530,1210,0.5),(560,1190,0.5),(600,1290,0.8),(680,1200,0.15),(780,1280,-0.8),(840,1210,-0.3),(845,1300,-0.5),(910,1290,0.4),(960,1230,0.35),(1060,1220,0.1),(1120,1260,-0.5),(1145,1290,-1.4),(1210,1210,0.1),(1310,1270,0.95),(1260,1200,0.7),(1380,1270,0.4),(1450,1290,0.5),
(70,1400,0.7),(140,1380,0.8),(230,1355,-1.3),(245,1380,-1.6),(300,1340,0.1),(230,1440,-0.5),(310,1460,-1.4),(350,1440,-0.3),(400,1380,0.3),(510,1350,0.7),(555,1390,0.8),(600,1360,-0.3),(655,1365,-0.9),(640,1430,-0.2),(680,1490,-1.0),(760,1480,-0.8),(730,1400,0.2),(830,1380,0.7),(900,1380,0.5),(960,1390,0.4),(1015,1395,-1.2),(1030,1470,-1.0),(1100,1380,-0.1),(1120,1460,0.1),(1190,1370,0.5),(1260,1390,0.95),(1345,1350,-0.1),(1395,1330,-0.4),(1420,1390,-0.5),(1470,1440,1.1),(1440,1480,-1.2),(1365,1500,2.05),
(60,1480,0.5),(170,1480,0.9),(220,1490,0.3),(310,1500,-1.2),(400,1480,0.3),(490,1470,0.7),(570,1480,0.4),(830,1470,0.5),(900,1470,0.5),(970,1480,-0.7),(1190,1470,0.8),(1280,1470,0.95),
]

# Colour readings of panel 1 checked against its colour bar
P1_READ = [-0.98, -0.7, -0.4, -0.1, 0.15, 0.3, 0.45, 0.5, 0.58]
P1_TRUE = [-0.98, -0.77, -0.52, -0.27, 0.05, 0.17, 0.33, 0.38, 0.58]

# Crop frame of each panel's sites: x0, x1, y0, y1
FRAME_P1 = (38, 1500, 40, 1515)
FRAME_P2 = (29, 1488, 40, 1515)
FRAME_P3 = (38, 1500, 33, 1508)
FRAME_P4 = (29, 1488, 33, 1508)

CBAR_LIMITS = [(-0.994, 0.58), (0.5, 2.79), (-0.74, 2.04), (-2.6, 2.853)]
CBAR_TICKS = [[-0.5, 0.0, 0.5], [0.5, 1.0, 1.5, 2.0, 2.5], [0, 1, 2], [-2, 0, 2]]
CBAR_LABELS = ["APER Precision \n $log_{10}$(Error (%))", "APER Accuracy \n $log_{10}$(Error (%))",
               "AIROPA Precision \n $log_{10}$(Error (%))", "AIROPA Accuracy \n $log_{10}$(Error (%))"]
XLABELS = ["Pixels \nAperture Photometric Error (%)\n Average Across Field: 0.703",
           "Pixels \nAverage Photometric Error (%)\n Across Field: 65.64\n Minimum: 3.120",
           "Pixels \nAIROPA Photometric Error (%)\n Average Across Field: 1.326",
           "Pixels \nAverage Photometric Error (%)\n Across Field: 5.936\n Minimum: 0.002"]

W, H = 3195, 2429
AX_BOXES = [(188, 19, 995, 825), (1903, 19, 2709, 825), (188, 1275, 995, 2081), (1903, 1275, 2709, 2081)]
CB_X = [(1058, 1098), (2772, 2813), (1058, 1098), (2772, 2813)]
GRID = 420
FONT = 18.1
LW = 1.44


def normalise(sites, frame):
    a = np.array(sites, dtype=float)
    x0, x1, y0, y1 = frame
    return (a[:, 0] - x0) / (x1 - x0), (a[:, 1] - y0) / (y1 - y0), a[:, 2]


def cell_map(x, y, v):
    c = (np.arange(GRID) + 0.5) / GRID
    out = np.zeros((GRID, GRID))
    for i, yc in enumerate(c):
        d = (c[:, None] - x[None, :]) ** 2 + (yc - y[None, :]) ** 2
        out[i] = v[np.argmin(d, axis=1)]
    return out


sns.set_theme(style="white", rc={"font.family": "DejaVu Sans", "font.size": FONT})

x1, y1, v1 = normalise(APER_PRECISION_SITES, FRAME_P1)
v1 = np.interp(v1, P1_READ, P1_TRUE)
x2a, y2a, v2a = normalise(APER_ACCURACY_SITES, FRAME_P2)
x2 = np.concatenate([x1, x2a])
y2 = np.concatenate([y1, y2a])
v2 = np.concatenate([np.full(x1.size, APER_ACCURACY_BACKGROUND), v2a])
x3, y3, v3 = normalise(AIROPA_PRECISION_SITES, FRAME_P3)
x4, y4, v4 = normalise(AIROPA_ACCURACY_SITES, FRAME_P4)
maps = [cell_map(x1, y1, v1), cell_map(x2, y2, v2), cell_map(x3, y3, v3), cell_map(x4, y4, v4)]

fig = plt.figure(figsize=(W / 300, H / 300), dpi=300, facecolor="white")
for i in range(4):
    l, t, r, b = AX_BOXES[i]
    ax = fig.add_axes([l / W, 1 - b / H, (r - l) / W, (b - t) / H])
    cl, cr = CB_X[i]
    cax = fig.add_axes([cl / W, 1 - b / H, (cr - cl) / W, (b - t) / H])
    sns.heatmap(maps[i], cmap="viridis", vmin=CBAR_LIMITS[i][0], vmax=CBAR_LIMITS[i][1], ax=ax, cbar_ax=cax,
                xticklabels=False, yticklabels=False)
    for s in ax.spines.values():
        s.set_visible(True)
        s.set_color("black")
        s.set_linewidth(LW)
    ax.set_xlabel(XLABELS[i], fontsize=FONT, color="black", labelpad=7.0)
    ax.set_ylabel("Pixels", fontsize=FONT, color="black", labelpad=7.2)
    cb = ax.collections[0].colorbar
    cb.set_ticks(CBAR_TICKS[i])
    cb.ax.tick_params(labelsize=FONT, length=6.3, width=LW, pad=6.3, colors="black", right=True, direction="out")
    cb.outline.set_visible(True)
    cb.outline.set_edgecolor("black")
    cb.outline.set_linewidth(LW)
    cb.set_label(CBAR_LABELS[i], fontsize=FONT, color="black", labelpad=7.2)

fig.savefig("out.png", dpi=300, facecolor="white")
